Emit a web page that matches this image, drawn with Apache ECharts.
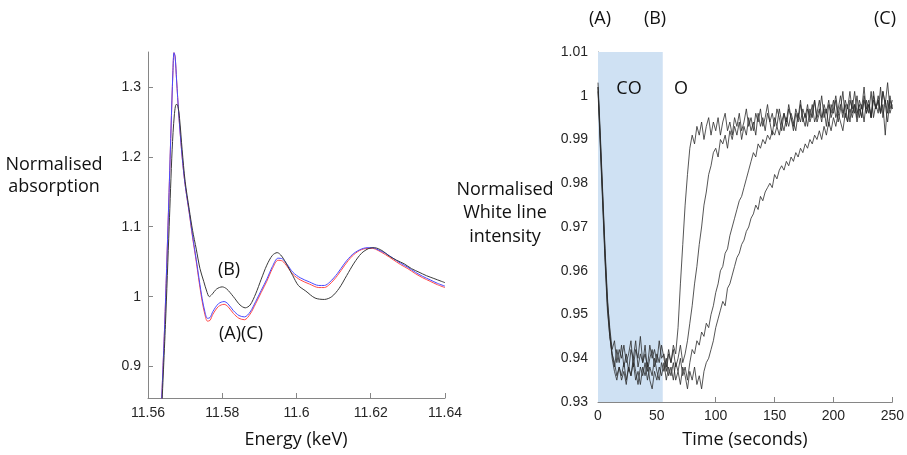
<!DOCTYPE html>
<html><head><meta charset="utf-8">
<script src="https://cdn.jsdelivr.net/npm/echarts@6/dist/echarts.min.js"></script>
<style>html,body{margin:0;padding:0;background:#fff}#c{width:907px;height:455px}</style>
</head><body><div id="c"></div>
<script>
// ---- Left panel: XANES spectra ----
const energyRB = [11.5635,11.5645,11.5655,11.5662,11.5667,11.5670,11.5673,11.5677,11.5683,11.5692,11.5700,11.5711,11.5720,11.5730,11.5738,11.5746,11.5753,11.5760,11.5767,11.5775,11.5790,11.5805,11.5815,11.5830,11.5845,11.5860,11.5875,11.5890,11.5905,11.5920,11.5935,11.5950,11.5962,11.5975,11.5990,11.6010,11.6035,11.6060,11.6075,11.6090,11.6110,11.6130,11.6150,11.6170,11.6190,11.6205,11.6220,11.6240,11.6260,11.6280,11.6300,11.6320,11.6340,11.6360,11.6380,11.6400];
const absRed = [0.83,0.96,1.12,1.24,1.32,1.349,1.343,1.31,1.26,1.20,1.16,1.12,1.085,1.05,1.02,0.993,0.975,0.965,0.966,0.975,0.986,0.989,0.986,0.976,0.969,0.967,0.975,0.99,1.006,1.022,1.04,1.052,1.051,1.043,1.032,1.024,1.018,1.013,1.013,1.018,1.030,1.045,1.058,1.066,1.069,1.069,1.066,1.060,1.053,1.046,1.040,1.033,1.027,1.022,1.017,1.013];
const absBlue = [0.83,0.96,1.12,1.24,1.32,1.349,1.344,1.31,1.26,1.20,1.16,1.121,1.087,1.053,1.024,0.997,0.979,0.969,0.970,0.979,0.990,0.993,0.990,0.980,0.973,0.971,0.978,0.993,1.009,1.025,1.043,1.055,1.054,1.046,1.035,1.027,1.021,1.016,1.016,1.021,1.033,1.048,1.060,1.067,1.070,1.070,1.067,1.062,1.055,1.048,1.042,1.035,1.029,1.024,1.019,1.015];
const energyBlack = [11.5637,11.5647,11.5657,11.5665,11.5671,11.5676,11.5680,11.5685,11.5692,11.5700,11.5711,11.5720,11.5730,11.5740,11.5750,11.5758,11.5765,11.5772,11.5785,11.5800,11.5812,11.5830,11.5848,11.5862,11.5875,11.5890,11.5905,11.5920,11.5935,11.5948,11.5960,11.5975,11.5990,11.6005,11.6025,11.6050,11.6075,11.6095,11.6115,11.6135,11.6155,11.6175,11.6195,11.6210,11.6230,11.6250,11.6270,11.6290,11.6310,11.6330,11.6350,11.6370,11.6390,11.6400];
const absBlack = [0.84,0.96,1.10,1.21,1.26,1.275,1.274,1.255,1.21,1.165,1.125,1.095,1.068,1.04,1.022,1.008,1.0,1.003,1.011,1.014,1.011,1.0,0.988,0.984,0.988,1.004,1.025,1.045,1.059,1.063,1.058,1.045,1.03,1.016,1.008,0.998,0.996,1.0,1.012,1.03,1.048,1.062,1.069,1.07,1.066,1.058,1.052,1.047,1.040,1.035,1.030,1.026,1.022,1.020];
const leftYTicks = [0.9,1.0,1.1,1.2,1.3];

// ---- Right panel: white line intensity vs time (t = 0,2,...,250 s) ----
const timeStep = 2;
const trace1 = [1.002,0.990,0.977,0.964,0.953,0.947,0.942,0.944,0.939,0.942,
0.940,0.943,0.939,0.941,0.944,0.938,0.942,0.940,0.945,0.939,
0.941,0.938,0.943,0.940,0.942,0.939,0.944,0.940,0.941,0.938,
0.942,0.939,0.943,0.941,0.947,0.957,0.966,0.975,0.982,0.988,
0.991,0.989,0.993,0.991,0.994,0.990,0.993,0.995,0.991,0.994,
0.992,0.995,0.991,0.994,0.996,0.992,0.994,0.991,0.995,0.993,
0.996,0.992,0.994,0.997,0.993,0.995,0.992,0.996,0.994,0.997,
0.993,0.995,0.998,0.994,0.996,0.993,0.997,0.995,0.992,0.996,
0.994,0.998,0.995,0.993,0.997,0.995,0.999,0.994,0.996,0.993,
0.997,0.995,0.999,0.994,0.996,1.000,0.995,0.997,0.993,0.998,
0.996,0.999,0.994,0.997,1.001,0.995,0.998,0.994,0.999,0.996,
1.000,0.995,0.998,0.994,0.999,0.996,1.001,0.995,0.998,0.996,
1.002,0.995,0.999,0.996,1.000,0.997];
const trace2 = [1.001,0.988,0.975,0.962,0.951,0.945,0.941,0.938,0.942,0.939,
0.943,0.938,0.941,0.937,0.942,0.940,0.944,0.938,0.941,0.939,
0.943,0.937,0.940,0.942,0.938,0.941,0.939,0.943,0.940,0.937,
0.941,0.939,0.942,0.938,0.940,0.943,0.939,0.941,0.944,0.948,
0.952,0.957,0.961,0.966,0.970,0.975,0.978,0.982,0.984,0.987,
0.988,0.986,0.990,0.989,0.991,0.988,0.992,0.990,0.993,0.991,
0.994,0.990,0.993,0.991,0.995,0.992,0.994,0.991,0.996,0.993,
0.995,0.992,0.996,0.994,0.991,0.995,0.993,0.997,0.994,0.996,
0.993,0.997,0.995,0.992,0.996,0.994,0.998,0.995,0.993,0.997,
0.995,0.998,0.994,0.996,0.999,0.995,0.997,0.993,0.998,0.996,
0.999,0.995,0.997,1.000,0.996,0.998,0.994,0.999,0.997,1.001,
0.996,0.998,0.995,1.000,0.997,0.999,0.995,1.001,0.997,0.999,
0.996,1.001,0.998,0.994,0.999,0.997];
const trace3 = [1.003,0.991,0.978,0.965,0.954,0.946,0.940,0.937,0.935,0.938,
0.936,0.939,0.935,0.938,0.936,0.940,0.937,0.934,0.938,0.936,
0.939,0.935,0.938,0.936,0.940,0.937,0.935,0.939,0.937,0.940,
0.936,0.938,0.935,0.939,0.937,0.940,0.936,0.938,0.935,0.939,
0.942,0.941,0.944,0.943,0.946,0.945,0.948,0.947,0.950,0.952,
0.955,0.957,0.960,0.961,0.964,0.965,0.968,0.970,0.972,0.974,
0.976,0.977,0.979,0.981,0.983,0.985,0.987,0.986,0.989,0.988,
0.990,0.989,0.991,0.990,0.992,0.991,0.993,0.991,0.994,0.992,
0.995,0.993,0.996,0.994,0.992,0.996,0.994,0.997,0.995,0.998,
0.994,0.996,0.999,0.995,0.997,0.994,0.998,0.996,0.999,0.995,
0.997,1.000,0.996,0.998,0.995,0.999,0.997,1.001,0.996,0.998,
0.995,0.999,0.997,1.002,0.996,0.998,0.995,1.000,0.997,0.999,
0.996,1.001,0.998,1.003,0.997,0.999];
const trace4 = [1.002,0.989,0.976,0.963,0.952,0.945,0.941,0.939,0.936,0.938,
0.935,0.937,0.934,0.938,0.936,0.939,0.935,0.937,0.934,0.938,
0.936,0.939,0.935,0.933,0.937,0.935,0.938,0.936,0.939,0.935,
0.938,0.936,0.939,0.935,0.937,0.934,0.938,0.936,0.933,0.937,
0.935,0.938,0.934,0.936,0.933,0.937,0.939,0.940,0.942,0.944,
0.947,0.949,0.951,0.953,0.952,0.956,0.957,0.959,0.961,0.963,
0.964,0.966,0.967,0.969,0.970,0.972,0.973,0.975,0.974,0.977,
0.976,0.978,0.979,0.980,0.979,0.982,0.981,0.983,0.984,0.983,
0.985,0.984,0.986,0.985,0.987,0.986,0.988,0.987,0.989,0.988,
0.990,0.989,0.991,0.990,0.992,0.990,0.993,0.991,0.994,0.992,
0.995,0.993,0.996,0.994,0.992,0.996,0.994,0.997,0.995,0.998,
0.994,0.997,0.995,0.999,0.996,0.998,0.995,0.999,0.997,1.000,
0.996,0.998,0.991,0.999,0.996,0.998];
const coPeriod = [0, 55];

const zip = (xs, ys) => ys.map((y, i) => [xs[i], y]);
const timed = ys => ys.map((y, i) => [i * timeStep, y]);

const tickFont = {fontFamily: 'Liberation Sans, Arial, sans-serif', fontSize: 14, color: '#262626'};
const axisLineStyle = {lineStyle: {color: '#868686', width: 1}};
const nameFont = '18px "Open Sans", "Noto Sans", sans-serif';

const chart = echarts.init(document.getElementById('c'), null, {renderer: 'canvas'});
const rightLine = (d) => ({type: 'line', xAxisIndex: 1, yAxisIndex: 1, data: timed(d), showSymbol: false, symbol: 'none',
  lineStyle: {color: '#2b2b2b', width: 0.8}, z: 3});
const label = (id, x, y, text, lh) => ({type: 'text', id: id, x: x, y: y, z: 100,
  style: {text: text, font: nameFont, fill: '#111', align: 'center', verticalAlign: 'middle', lineHeight: lh || 24}});

chart.setOption({
  animation: false,
  grid: [
    {left: 148, right: 462, top: 52, bottom: 57},
    {left: 598, right: 14, top: 52, bottom: 53}
  ],
  xAxis: [
    {gridIndex: 0, type: 'value', min: 11.56, max: 11.64, interval: 0.02,
      axisLine: axisLineStyle, axisTick: {inside: true, length: 5, lineStyle: {color: '#868686'}},
      axisLabel: Object.assign({margin: 8}, tickFont), splitLine: {show: false}},
    {gridIndex: 1, type: 'value', min: 0, max: 250, interval: 50,
      axisLine: axisLineStyle, axisTick: {inside: true, length: 5, lineStyle: {color: '#868686'}},
      axisLabel: Object.assign({margin: 7}, tickFont), splitLine: {show: false}}
  ],
  yAxis: [
    {gridIndex: 0, type: 'value', min: 0.855, max: 1.35,
      axisLine: Object.assign({show: true}, axisLineStyle),
      axisTick: {show: true, inside: true, length: 5, lineStyle: {color: '#868686'}, customValues: leftYTicks},
      axisLabel: Object.assign({margin: 7, customValues: leftYTicks}, tickFont), splitLine: {show: false}},
    {gridIndex: 1, type: 'value', min: 0.93, max: 1.01, interval: 0.01,
      axisLine: Object.assign({show: true}, axisLineStyle),
      axisTick: {show: true, inside: true, length: 5, lineStyle: {color: '#868686'}},
      axisLabel: Object.assign({margin: 10}, tickFont), splitLine: {show: false}}
  ],
  series: [
    {type: 'line', xAxisIndex: 0, yAxisIndex: 0, data: zip(energyRB, absRed), smooth: 0.3, showSymbol: false, symbol: 'none',
      lineStyle: {color: '#ff4a4a', width: 1}, z: 2},
    {type: 'line', xAxisIndex: 0, yAxisIndex: 0, data: zip(energyRB, absBlue), smooth: 0.3, showSymbol: false, symbol: 'none',
      lineStyle: {color: '#4a4aff', width: 1}, z: 3},
    {type: 'line', xAxisIndex: 0, yAxisIndex: 0, data: zip(energyBlack, absBlack), smooth: 0.3, showSymbol: false, symbol: 'none',
      lineStyle: {color: '#3a3a3a', width: 1}, z: 4},
    {type: 'line', xAxisIndex: 1, yAxisIndex: 1, data: [], z: 1,
      markArea: {silent: true, itemStyle: {color: '#cfe1f3'}, data: [[{xAxis: coPeriod[0]}, {xAxis: coPeriod[1]}]]}},
    rightLine(trace1), rightLine(trace2), rightLine(trace3), rightLine(trace4)
  ],
  graphic: {elements: [
    label('ynL', 54, 176, 'Normalised\nabsorption', 22),
    label('ynR', 505, 213, 'Normalised\nWhite line\nintensity', 23.5),
    label('xnL', 296, 440, 'Energy (keV)'),
    label('xnR', 745, 440, 'Time (seconds)'),
    label('lB', 229, 270, '(B)'),
    label('lAC', 241, 334, '(A)(C)'),
    label('tA', 600, 19, '(A)'),
    label('tB', 655, 19, '(B)'),
    label('tC', 885, 19, '(C)'),
    label('tCO', 629, 89, 'CO'),
    label('tO', 681, 89, 'O')
  ]}
});
</script></body></html>
